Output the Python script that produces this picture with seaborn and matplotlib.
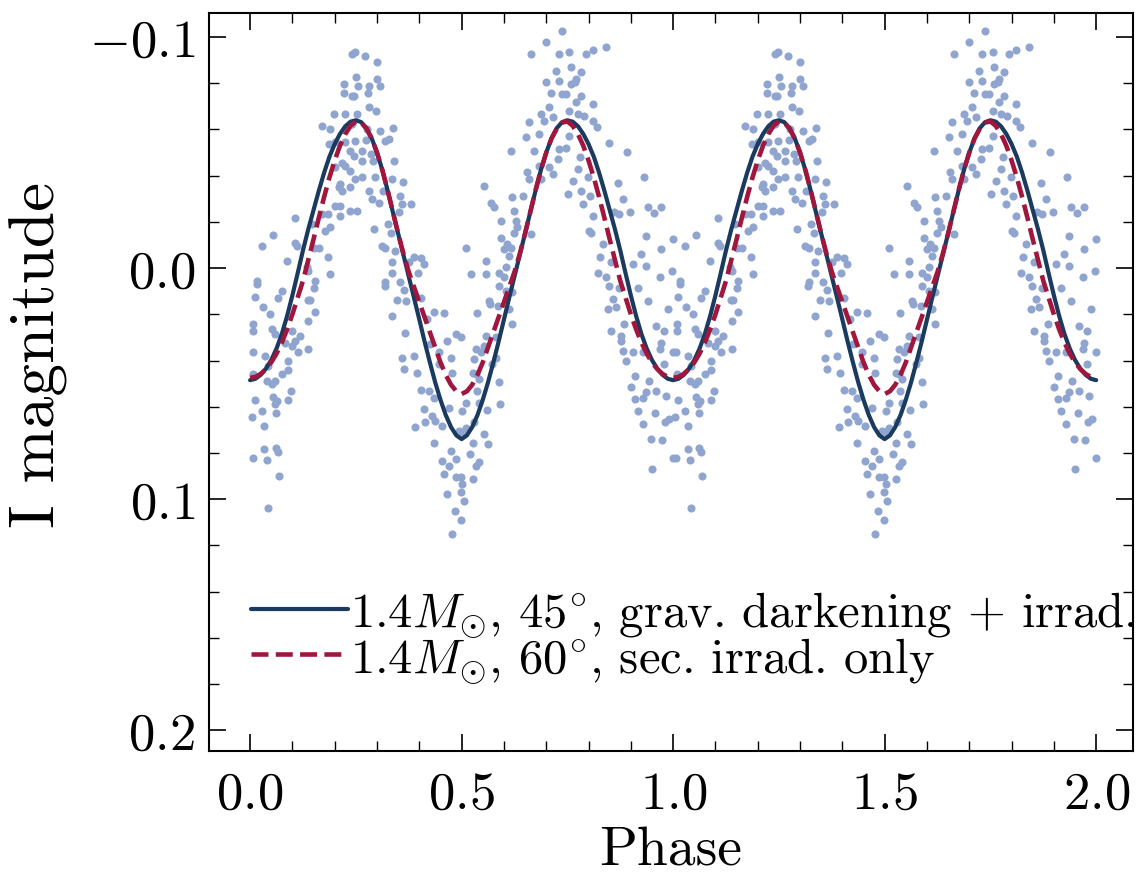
import matplotlib

matplotlib.use("Agg")

import matplotlib.pyplot as plt
import numpy as np
import pandas as pd
import seaborn as sns
from matplotlib.ticker import MultipleLocator

# --- data ------------------------------------------------------------------
# model curves over one orbital cycle (phase 0..1 in steps of 0.0125), I magnitude
model_phase = np.linspace(0.0, 1.0, 81)
grav_irrad_mag = [
    0.0485, 0.0479, 0.0462, 0.0435, 0.0398, 0.0348, 0.0285, 0.0207, 0.0118, 0.0022,
    -0.0077, -0.0168, -0.0252, -0.0335, -0.0413, -0.0482, -0.0537, -0.0581, -0.0614, -0.0634,
    -0.0640,
    -0.0632, -0.0606, -0.0562, -0.0500, -0.0425, -0.0337, -0.0242, -0.0150, -0.0057, 0.0036,
    0.0128, 0.0222, 0.0318, 0.0408, 0.0494, 0.0570, 0.0636, 0.0688, 0.0724, 0.0740,
    0.0724, 0.0688, 0.0636, 0.0570, 0.0494, 0.0408, 0.0318, 0.0222, 0.0128, 0.0036,
    -0.0057, -0.0150, -0.0242, -0.0337, -0.0425, -0.0500, -0.0562, -0.0606, -0.0632, -0.0640,
    -0.0634, -0.0614, -0.0581, -0.0537, -0.0482, -0.0413, -0.0335, -0.0252, -0.0168, -0.0077,
    0.0022, 0.0118, 0.0207, 0.0285, 0.0348, 0.0398, 0.0435, 0.0462, 0.0479, 0.0485,
]
sec_irrad_mag = [
    0.0475, 0.0471, 0.0458, 0.0437, 0.0408, 0.0370, 0.0322, 0.0265, 0.0200, 0.0128,
    0.0055, -0.0035, -0.0125, -0.0218, -0.0308, -0.0392, -0.0466, -0.0530, -0.0580, -0.0616,
    -0.0635,
    -0.0630, -0.0604, -0.0561, -0.0500, -0.0425, -0.0338, -0.0243, -0.0150, -0.0062, 0.0016,
    0.0082, 0.0147, 0.0212, 0.0278, 0.0343, 0.0408, 0.0462, 0.0505, 0.0533, 0.0545,
    0.0533, 0.0505, 0.0462, 0.0408, 0.0343, 0.0278, 0.0212, 0.0147, 0.0082, 0.0016,
    -0.0062, -0.0150, -0.0243, -0.0338, -0.0425, -0.0500, -0.0561, -0.0604, -0.0630, -0.0635,
    -0.0616, -0.0580, -0.0530, -0.0466, -0.0392, -0.0308, -0.0218, -0.0125, -0.0035, 0.0055,
    0.0128, 0.0200, 0.0265, 0.0322, 0.0370, 0.0408, 0.0437, 0.0458, 0.0471, 0.0475,
]

# observed points (phase, mag) for one cycle; the figure shows the cycle twice
pts_q1 = [
    (0.240, -0.0926), (0.221, -0.0797), (0.221, -0.0760), (0.240, -0.0746), (0.199, -0.0667),
    (0.225, -0.0667), (0.171, -0.0616), (0.189, -0.0602), (0.239, -0.0623), (0.187, -0.0537),
    (0.201, -0.0544), (0.225, -0.0544), (0.236, -0.0508), (0.217, -0.0457), (0.225, -0.0443),
    (0.201, -0.0436), (0.236, -0.0421), (0.213, -0.0364), (0.217, -0.0335), (0.209, -0.0350),
    (0.236, -0.0350), (0.201, -0.0270), (0.213, -0.0270), (0.185, -0.0234), (0.213, -0.0227),
    (0.236, -0.0248), (0.169, -0.0234), (0.189, -0.0176), (0.177, -0.0162), (0.106, -0.0219),
    (0.146, -0.0190), (0.055, -0.0143), (0.028, -0.0094), (0.106, -0.0107), (0.110, -0.0094),
    (0.150, -0.0089), (0.162, -0.0089), (0.185, -0.0046), (0.087, -0.0032), (0.134, -0.0003),
    (0.138, 0.0012), (0.016, 0.0055), (0.189, 0.0026), (0.154, 0.0055),
    (0.016, 0.0069), (0.012, 0.0124), (0.075, 0.0098), (0.067, 0.0130), (0.150, 0.0084),
    (0.031, 0.0170), (0.047, 0.0200), (0.142, 0.0139), (0.136, 0.0140), (0.154, 0.0190),
    (0.138, 0.0228), (0.008, 0.0242), (0.008, 0.0271), (0.051, 0.0264), (0.059, 0.0286),
    (0.099, 0.0271), (0.118, 0.0293), (0.106, 0.0315), (0.083, 0.0322), (0.099, 0.0336),
    (0.114, 0.0365), (0.138, 0.0351), (0.006, 0.0365), (0.035, 0.0379), (0.090, 0.0401),
    (0.043, 0.0423), (0.090, 0.0442), (0.075, 0.0459), (0.008, 0.0459), (0.039, 0.0488),
    (0.059, 0.0488), (0.051, 0.0502), (0.097, 0.0531), (0.012, 0.0571), (0.055, 0.0557),
    (0.063, 0.0574), (0.089, 0.0571), (0.059, 0.0589), (0.028, 0.0620), (0.061, 0.0625),
    (0.004, 0.0644), (0.034, 0.0683), (0.034, 0.0784), (0.061, 0.0777), (0.065, 0.0794),
    (0.006, 0.0820), (0.039, 0.0831), (0.069, 0.0899), (0.042, 0.1039),
]
pts_q2 = [
    (0.247, -0.0934), (0.271, -0.0919), (0.300, -0.0890), (0.251, -0.0828), (0.255, -0.0789),
    (0.281, -0.0789), (0.300, -0.0818), (0.306, -0.0789), (0.279, -0.0760), (0.245, -0.0746),
    (0.281, -0.0696), (0.298, -0.0678), (0.253, -0.0667), (0.241, -0.0623), (0.277, -0.0602),
    (0.308, -0.0595), (0.337, -0.0606), (0.249, -0.0551), (0.273, -0.0554), (0.320, -0.0551),
    (0.328, -0.0558), (0.245, -0.0486), (0.265, -0.0508), (0.285, -0.0494), (0.290, -0.0465),
    (0.339, -0.0465), (0.265, -0.0465), (0.249, -0.0385), (0.265, -0.0393), (0.296, -0.0393),
    (0.335, -0.0385), (0.361, -0.0371), (0.280, -0.0335), (0.313, -0.0335), (0.289, -0.0299),
    (0.304, -0.0284), (0.355, -0.0313), (0.359, -0.0277), (0.381, -0.0277), (0.253, -0.0248),
    (0.352, -0.0241), (0.292, -0.0169), (0.326, -0.0190), (0.332, -0.0154), (0.312, -0.0097),
    (0.320, -0.0089), (0.343, -0.0075), (0.387, -0.0046), (0.403, -0.0043), (0.336, -0.0025),
    (0.375, -0.0025), (0.411, -0.0017), (0.397, 0.0019), (0.336, 0.0019), (0.320, 0.0062),
    (0.355, 0.0062),
    (0.318, 0.0076), (0.363, 0.0095), (0.347, 0.0139), (0.368, 0.0141), (0.403, 0.0130),
    (0.336, 0.0206), (0.434, 0.0192), (0.458, 0.0196), (0.418, 0.0221), (0.367, 0.0279),
    (0.486, 0.0286), (0.466, 0.0315), (0.426, 0.0329), (0.446, 0.0365), (0.359, 0.0387),
    (0.387, 0.0379), (0.474, 0.0387), (0.363, 0.0437), (0.395, 0.0456), (0.446, 0.0416),
    (0.478, 0.0452), (0.403, 0.0528), (0.423, 0.0531), (0.434, 0.0560), (0.410, 0.0610),
    (0.470, 0.0606), (0.430, 0.0639), (0.438, 0.0660), (0.391, 0.0687), (0.414, 0.0668),
    (0.454, 0.0683), (0.434, 0.0755), (0.474, 0.0791), (0.454, 0.0834), (0.470, 0.0856),
    (0.458, 0.0892), (0.486, 0.0827), (0.466, 0.0978), (0.486, 0.0906), (0.484, 0.1053),
    (0.477, 0.1149),
]
pts_q3 = [
    (0.738, -0.1027), (0.700, -0.0977), (0.664, -0.0926), (0.731, -0.0926), (0.723, -0.0854),
    (0.699, -0.0804), (0.731, -0.0811), (0.711, -0.0760), (0.738, -0.0753), (0.707, -0.0698),
    (0.687, -0.0667), (0.659, -0.0631), (0.695, -0.0638), (0.715, -0.0652), (0.652, -0.0566),
    (0.683, -0.0580), (0.731, -0.0515), (0.671, -0.0508), (0.616, -0.0508), (0.727, -0.0472),
    (0.655, -0.0414), (0.707, -0.0436), (0.683, -0.0443), (0.660, -0.0385), (0.687, -0.0385),
    (0.715, -0.0407), (0.553, -0.0356), (0.620, -0.0306), (0.644, -0.0313), (0.569, -0.0284),
    (0.577, -0.0263), (0.624, -0.0248), (0.593, -0.0205), (0.628, -0.0205), (0.632, -0.0176),
    (0.624, -0.0154), (0.664, -0.0147), (0.593, -0.0130), (0.608, -0.0104), (0.616, -0.0089),
    (0.511, -0.0089), (0.600, -0.0082), (0.612, -0.0053), (0.557, -0.0032), (0.604, -0.0003),
    (0.522, 0.0026), (0.557, 0.0026), (0.589, 0.0019), (0.601, 0.0040),
    (0.589, 0.0076), (0.604, 0.0098), (0.620, 0.0105), (0.565, 0.0141), (0.567, 0.0156),
    (0.585, 0.0163), (0.612, 0.0177), (0.537, 0.0196), (0.619, 0.0242), (0.498, 0.0300),
    (0.557, 0.0293), (0.581, 0.0300), (0.553, 0.0336), (0.533, 0.0351), (0.545, 0.0365),
    (0.530, 0.0394), (0.581, 0.0387), (0.573, 0.0416), (0.526, 0.0452), (0.533, 0.0459),
    (0.541, 0.0481), (0.589, 0.0495), (0.537, 0.0531), (0.510, 0.0582), (0.541, 0.0582),
    (0.559, 0.0615), (0.502, 0.0618), (0.590, 0.0589), (0.530, 0.0668), (0.510, 0.0690),
    (0.494, 0.0704), (0.502, 0.0711), (0.553, 0.0719), (0.526, 0.0755), (0.563, 0.0762),
    (0.519, 0.0805), (0.541, 0.0841), (0.533, 0.0856), (0.498, 0.0906), (0.526, 0.0914),
    (0.502, 0.0935), (0.498, 0.0971), (0.506, 0.1007), (0.498, 0.1090),
]
pts_q4 = [
    (0.842, -0.0955), (0.810, -0.0944), (0.794, -0.0926), (0.755, -0.0934), (0.759, -0.0869),
    (0.783, -0.0847), (0.771, -0.0818), (0.759, -0.0797), (0.767, -0.0804), (0.747, -0.0753),
    (0.783, -0.0746), (0.771, -0.0717), (0.810, -0.0710), (0.755, -0.0681), (0.790, -0.0659),
    (0.775, -0.0667), (0.810, -0.0638), (0.820, -0.0609), (0.755, -0.0573), (0.849, -0.0540),
    (0.747, -0.0522), (0.890, -0.0501), (0.779, -0.0479), (0.775, -0.0429), (0.932, -0.0393),
    (0.764, -0.0378), (0.869, -0.0367), (0.799, -0.0393), (0.783, -0.0335), (0.751, -0.0320),
    (0.803, -0.0313), (0.881, -0.0299), (0.786, -0.0277), (0.861, -0.0241), (0.873, -0.0234),
    (0.897, -0.0245), (0.940, -0.0266), (0.954, -0.0237), (0.971, -0.0266), (0.810, -0.0227),
    (0.806, -0.0154), (0.802, -0.0162), (0.935, -0.0140), (0.834, -0.0104), (0.972, -0.0082),
    (0.999, -0.0126), (0.826, -0.0046), (0.924, -0.0061), (0.904, -0.0017), (0.854, -0.0025),
    (0.936, -0.0010), (0.822, 0.0019), (0.842, 0.0040), (0.968, 0.0040), (0.998, 0.0014),
    (0.849, 0.0076), (0.873, 0.0084), (0.916, 0.0084), (0.857, 0.0134), (0.940, 0.0141),
    (0.846, 0.0177), (0.865, 0.0170), (0.987, 0.0177), (0.885, 0.0242), (0.960, 0.0250),
    (0.979, 0.0271), (0.853, 0.0271), (0.877, 0.0293), (0.877, 0.0315), (0.972, 0.0322),
    (0.968, 0.0351), (0.881, 0.0358), (0.905, 0.0365), (0.929, 0.0365), (1.000, 0.0365),
    (0.889, 0.0401), (0.979, 0.0416), (0.909, 0.0466), (0.944, 0.0488), (0.901, 0.0516),
    (0.936, 0.0538), (0.960, 0.0531), (0.984, 0.0553), (0.909, 0.0567), (0.929, 0.0560),
    (0.917, 0.0617), (0.956, 0.0625), (0.929, 0.0675), (0.980, 0.0668), (0.991, 0.0654),
    (0.948, 0.0740), (0.974, 0.0745), (1.000, 0.0820), (0.950, 0.0870),
]

LABEL_GRAV = r"$1.4M_{\odot}$, $45^{\circ}$, grav. darkening $+$ irrad."
LABEL_SEC = r"$1.4M_{\odot}$, $60^{\circ}$, sec. irrad. only"

DOT = "#8fa5cf"
NAVY = "#1a3a5f"
WINE = "#a0163c"

# --- style ------------------------------------------------------------------
sns.set_theme(style="ticks")
plt.rcParams.update(
    {
        "font.family": "serif",
        "font.serif": ["cmr10"],
        "mathtext.fontset": "cm",
        "axes.formatter.use_mathtext": True,
        "text.color": "black",
        "axes.labelcolor": "black",
        "axes.edgecolor": "black",
        "axes.linewidth": 1.5,
        "xtick.direction": "in",
        "ytick.direction": "in",
        "xtick.top": True,
        "ytick.right": True,
        "xtick.minor.visible": True,
        "ytick.minor.visible": True,
        "xtick.major.size": 12,
        "ytick.major.size": 12,
        "xtick.minor.size": 7,
        "ytick.minor.size": 7,
        "xtick.major.width": 1.2,
        "ytick.major.width": 1.2,
        "xtick.minor.width": 1.0,
        "ytick.minor.width": 1.0,
        "xtick.color": "black",
        "ytick.color": "black",
        "xtick.labelcolor": "black",
        "ytick.labelcolor": "black",
    }
)

# --- frames -------------------------------------------------------------------
obs = pd.DataFrame(pts_q1 + pts_q2 + pts_q3 + pts_q4, columns=["phase", "mag"])
obs = pd.concat([obs, obs.assign(phase=obs["phase"] + 1.0)], ignore_index=True)

models = pd.DataFrame(
    {
        "phase": np.concatenate([model_phase, model_phase[1:] + 1.0]),
        "grav": np.concatenate([grav_irrad_mag, grav_irrad_mag[1:]]),
        "sec": np.concatenate([sec_irrad_mag, sec_irrad_mag[1:]]),
    }
)

fig, ax = plt.subplots(figsize=(11.38, 8.78), dpi=100)
fig.subplots_adjust(left=0.1837, right=0.9956, bottom=0.1435, top=0.984)

sns.scatterplot(
    data=obs, x="phase", y="mag", ax=ax, color=DOT, s=34, linewidth=0, zorder=1
)
sns.lineplot(
    data=models, x="phase", y="grav", ax=ax, color=NAVY, lw=3.0,
    estimator=None, label=LABEL_GRAV, zorder=2,
)
sns.lineplot(
    data=models, x="phase", y="sec", ax=ax, color=WINE, lw=3.3, linestyle="--",
    estimator=None, label=LABEL_SEC, zorder=3,
)

ax.set_xlim(-0.097, 2.087)
ax.set_ylim(0.209, -0.1104)
ax.xaxis.set_major_locator(MultipleLocator(0.5))
ax.xaxis.set_minor_locator(MultipleLocator(0.1))
ax.yaxis.set_major_locator(MultipleLocator(0.1))
ax.yaxis.set_minor_locator(MultipleLocator(0.02))
ax.tick_params(axis="both", which="major", labelsize=38)
ax.tick_params(axis="x", which="major", pad=14)
ax.tick_params(axis="y", which="major", pad=10)

ax.set_xlabel("Phase", fontsize=40, labelpad=6)
ax.set_ylabel("I magnitude", fontsize=47)
ax.yaxis.set_label_coords(-0.153, 0.538)

ax.legend(
    loc="lower left",
    bbox_to_anchor=(0.045, 0.09),
    frameon=False,
    fontsize=35,
    handlelength=2.0,
    handletextpad=0.05,
    borderaxespad=0,
    borderpad=0,
    labelspacing=-0.08,
)

fig.savefig("out.png", dpi=100, facecolor="white")
